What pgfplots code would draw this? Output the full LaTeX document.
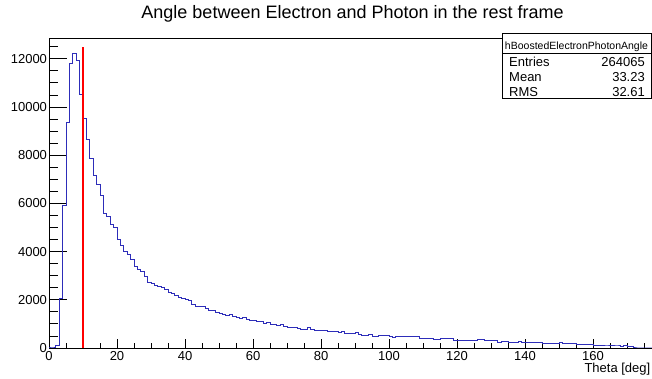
\documentclass[border=0pt]{standalone}
\usepackage{pgfplots}
\pgfplotsset{compat=1.18}
\usepackage{fontspec}
\setmainfont{Liberation Sans}
\definecolor{histblue}{RGB}{45,45,185}
\pgfplotstableread{
x y
0 0
1 0
2 120
3 2050
4 5900
5 9365
6 11820
7 12235
8 11918
9 10510
10 9505
11 8648
12 7875
13 7146
14 6774
15 6331
16 5600
17 5462
18 5118
19 5020
20 4498
21 4260
22 3985
23 3860
24 3660
25 3400
26 3256
27 3170
28 2965
29 2730
30 2690
31 2606
32 2537
33 2496
34 2427
35 2289
36 2262
37 2193
38 2096
39 2041
40 2013
41 1958
42 1820
43 1710
44 1738
45 1720
46 1627
47 1545
48 1560
49 1489
50 1434
51 1393
52 1365
53 1380
54 1324
55 1269
56 1227
57 1269
58 1186
59 1158
60 1131
61 1120
62 1089
63 1020
64 1050
65 979
66 985
67 952
68 960
69 900
70 860
71 855
72 850
73 800
74 772
75 772
76 855
77 760
78 745
79 745
80 740
81 745
82 690
83 690
84 685
85 662
86 703
87 607
88 607
89 610
90 648
91 580
92 538
93 538
94 540
95 496
96 496
97 500
98 510
99 538
100 480
101 441
102 469
103 469
104 465
105 469
106 470
107 465
108 496
109 400
110 400
111 405
112 400
113 372
114 372
115 375
116 390
117 390
118 385
119 320
120 303
121 305
122 303
123 310
124 303
125 300
126 345
127 345
128 317
129 317
130 320
131 317
132 248
133 250
134 276
135 234
136 234
137 236
138 262
139 220
140 220
141 222
142 220
143 218
144 220
145 193
146 193
147 195
148 193
149 190
150 220
151 193
152 193
153 190
154 193
155 138
156 150
157 138
158 138
159 140
160 110
161 110
162 112
163 83
164 83
165 85
166 83
167 83
168 80
169 83
170 60
171 50
172 0
173 0
174 0
175 0
176 0
177 0
178 0
179 0
180 0
}\histdata
\begin{document}
\begin{tikzpicture}
\useasboundingbox (-49pt,-31pt) rectangle (603pt,348pt);
\begin{axis}[
  scale only axis, width=612pt, height=309.7pt,
  xmin=0, xmax=180, ymin=0, ymax=12850,
  axis line style={line width=0.9pt},
  tick align=inside, xtick pos=bottom, ytick pos=left,
  xtick={0,20,...,180},
  xticklabels={0,20,40,60,80,100,120,140,160,{}},
  ytick={0,2000,...,12000},
  minor xtick={5,10,15,25,30,35,45,50,55,65,70,75,85,90,95,105,110,115,125,130,135,145,150,155,165,170,175},
  minor ytick={500,1000,1500,2500,3000,3500,4500,5000,5500,6500,7000,7500,8500,9000,9500,10500,11000,11500,12500},
  major tick length=18pt, minor tick length=9pt,
  xtick style={/pgfplots/major tick length=9pt,/pgfplots/minor tick length=4.5pt},
  every tick/.style={black, line width=0.8pt},
  scaled y ticks=false,
  /pgf/number format/assume math mode=true,
  /pgf/number format/1000 sep={},
  tick label style={font=\fontsize{13}{15}\selectfont},
  yticklabel style={xshift=1.5pt},
  xlabel={Theta [deg]},
  xlabel style={at={(axis description cs:1,0)}, anchor=base east, xshift=-10.5pt, yshift=-24.7pt, inner sep=0pt, font=\fontsize{13}{15}\selectfont},
]
\addplot[const plot, color=histblue, line width=1pt, mark=none] table[x=x,y=y] {\histdata};
\addplot[red, line width=1.3pt, mark=none] coordinates {(10,0) (10,12500)};
\end{axis}
\node[anchor=base, font=\fontsize{18}{21}\selectfont, inner sep=0pt] at (303.6pt,329.25pt) {Angle between Electron and Photon in the rest frame};
\draw[line width=0.8pt, fill=white] (453pt,249.7pt) rectangle (602pt,314.7pt);
\draw[line width=0.8pt] (453pt,294.7pt) -- (602pt,294.7pt);
\node[anchor=base, font=\fontsize{10.5}{12}\selectfont, inner sep=0pt] at (527.5pt,298.5pt) {hBoostedElectronPhotonAngle};
\begin{scope}[every node/.style={inner sep=0pt, font=\fontsize{13}{15}\selectfont}]
\node[anchor=base west] at (460pt,281pt) {Entries};
\node[anchor=base east] at (596pt,281pt) {264065};
\node[anchor=base west] at (460pt,266pt) {Mean};
\node[anchor=base east] at (596pt,266pt) {33.23};
\node[anchor=base west] at (460pt,251pt) {RMS};
\node[anchor=base east] at (596pt,251pt) {32.61};
\end{scope}
\end{tikzpicture}
\end{document}
